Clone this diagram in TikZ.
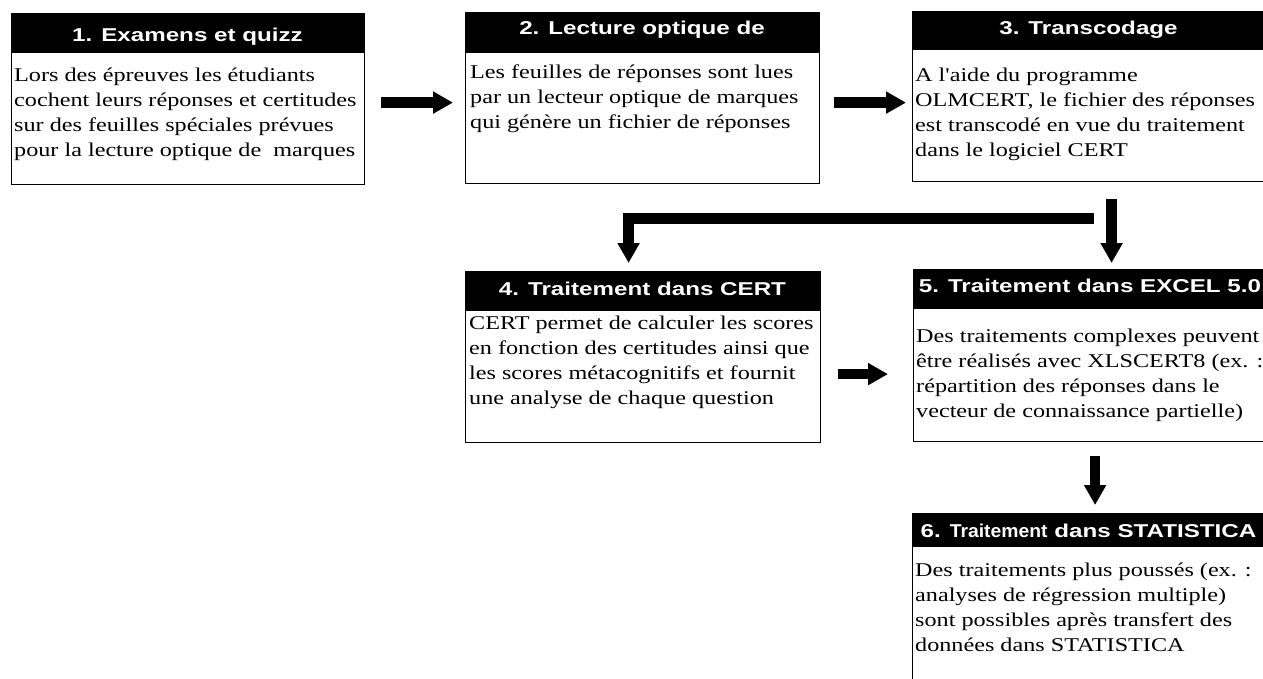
\documentclass[tikz,border=0pt]{standalone}
\usepackage{fontspec}
\usepackage{graphicx}
\usetikzlibrary{arrows.meta}
\newfontfamily\hdrfont[FakeStretch=1.3]{Liberation Sans}
\newfontfamily\bodyfont[FakeStretch=1.24,Ligatures=TeXOff]{Liberation Serif}
\tikzset{
  hdr/.style={draw=black, fill=black, line width=1.2pt, inner sep=0pt, anchor=north west},
  bodybox/.style={draw=black, fill=white, line width=1.2pt, inner sep=0pt, anchor=north west},
  htext/.style={text=white, font=\hdrfont\bfseries\fontsize{18.6}{22}\selectfont, anchor=base, inner sep=0pt},
  btext/.style={font=\bodyfont\fontsize{19.5}{25}\selectfont, anchor=base west, inner sep=0pt},
  bigarrow/.style={line width=10.5pt, -{Triangle[length=20pt,width=21pt]}}
}
\newcommand{\lines}[1]{\begin{tabular}[t]{@{}l@{}}#1\end{tabular}}
\begin{document}
\begin{tikzpicture}[x=1pt,y=-1pt]
\clip (0,0) rectangle (1263,679);
% box 1
\node[bodybox, minimum width=353pt, minimum height=132pt] (b1) at (11,52) {};
\node[hdr, minimum width=353pt, minimum height=39pt] (h1) at (11,13) {};
\node[htext] (th1) at (187.5,42) {1. Examens et quizz};
\node[btext] (tb1) at (14,82) {\lines{Lors des épreuves les étudiants\\ cochent leurs réponses et certitudes\\ sur des feuilles spéciales prévues\\ pour la lecture optique de\ \ marques}};
% box 2
\node[bodybox, minimum width=354pt, minimum height=131pt] (b2) at (465,52) {};
\node[hdr, minimum width=354pt, minimum height=40pt] (h2) at (465,12) {};
\node[htext] (th2) at (642,35) {2. Lecture optique de};
\node[btext] (tb2) at (470,79) {\lines{Les feuilles de réponses sont lues\\ par un lecteur optique de marques\\ qui génère un fichier de réponses}};
% box 3
\node[bodybox, minimum width=353pt, minimum height=132pt] (b3) at (912,49) {};
\node[hdr, minimum width=353pt, minimum height=38pt] (h3) at (912,11) {};
\node[htext] (th3) at (1088.5,35) {3. Transcodage};
\node[btext] (tb3) at (915,82) {\lines{A l'aide du programme\\ OLMCERT, le fichier des réponses\\ est transcodé en vue du traitement\\ dans le logiciel CERT}};
% box 4
\node[bodybox, minimum width=355pt, minimum height=132pt] (b4) at (465,310) {};
\node[hdr, minimum width=355pt, minimum height=39pt] (h4) at (465,271) {};
\node[htext] (th4) at (642.5,295) {4. Traitement dans CERT};
\node[btext] (tb4) at (469,329) {\lines{CERT permet de calculer les scores\\ en fonction des certitudes ainsi que\\ les scores métacognitifs et fournit\\ une analyse de chaque question}};
% box 5
\node[bodybox, minimum width=354pt, minimum height=133pt] (b5) at (913,308) {};
\node[hdr, minimum width=354pt, minimum height=39pt] (h5) at (913,269) {};
\node[htext] (th5) at (1090,292) {5. Traitement dans EXCEL 5.0};
\node[btext] (tb5) at (916,342) {\lines{Des traitements complexes peuvent\\ être réalisés avec XLSCERT8 (ex. :\\ répartition des réponses dans le\\ vecteur de connaissance partielle)}};
% box 6
\node[bodybox, minimum width=353pt, minimum height=160pt] (b6) at (912,546) {};
\node[hdr, minimum width=353pt, minimum height=33pt] (h6) at (912,513) {};
\node[htext] (th6) at (1088.5,537) {6. \scalebox{0.8}[1]{Traitement} dans STATISTICA};
\node[btext] (tb6) at (915,576) {\lines{Des traitements plus poussés (ex. :\\ analyses de régression multiple)\\ sont possibles après transfert des\\ données dans STATISTICA}};
% arrows
\draw[bigarrow, shorten <=16pt, shorten >=12pt] ([yshift=16pt]b1.east) -- ([yshift=16pt]b1.east -| b2.west);
\draw[bigarrow, shorten <=14pt, shorten >=6pt] ([yshift=15.5pt]b2.east) -- ([yshift=15.5pt]b2.east -| b3.west);
\draw[bigarrow, shorten <=17pt, shorten >=25pt] ([yshift=2.5pt]b4.east) -- ([yshift=2.5pt]b4.east -| b5.west);
\draw[bigarrow, shorten <=17pt, shorten >=6pt] ([xshift=22.5pt]b3.south) -- ([xshift=22.5pt]b3.south |- h5.north);
\coordinate (split) at (1094,218.5);
\draw[bigarrow, shorten >=8pt] (split) -| ([xshift=-14.5pt]h4.north);
\draw[bigarrow, shorten <=14pt, shorten >=8pt] ([xshift=4.5pt]b5.south) -- ([xshift=4.5pt]b5.south |- h6.north);
\end{tikzpicture}
\end{document}
